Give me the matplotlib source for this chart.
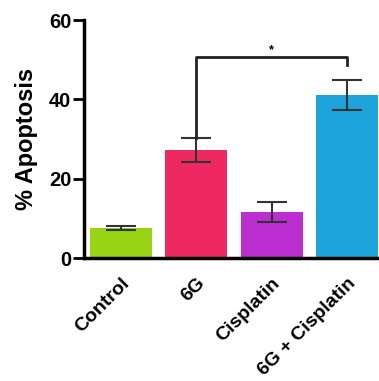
import numpy as np
import matplotlib
matplotlib.use("Agg")
import matplotlib.pyplot as plt

# values
groups = ['Control', '6G', 'Cisplatin', '6G + Cisplatin']
means = [7.5, 27.2, 11.6, 41.0]
errs = [0.5, 3.1, 2.4, 3.8]
colors = ['#99D414', '#EE2860', '#BB2ED0', '#1EA4DA']
yticks = [0, 20, 40, 60]
sig_y = 50.6
sig_pair = (1, 3)

plt.rcParams['font.family'] = ['Liberation Sans', 'DejaVu Sans']
plt.rcParams['font.weight'] = 'bold'

fig = plt.figure(figsize=(3.79, 3.81), dpi=100)
ax = fig.add_axes([0.2216, 0.3228, 0.7784, 0.6247])

x = np.arange(len(groups))
ax.bar(x, means, width=0.82, color=colors, edgecolor='none', zorder=2)
ax.errorbar(x, means, yerr=errs, fmt='none', ecolor='#333333',
            elinewidth=1.5, capsize=10.5, capthick=1.5, zorder=3)

# significance bracket
i, j = sig_pair
ax.plot([i, i, j, j], [means[i] + errs[i], sig_y, sig_y, 48.6],
        color='#222222', lw=2, zorder=4, clip_on=False)
ax.text((i + j) / 2, sig_y + 0.3, '*', ha='center', va='bottom', fontsize=9)

ax.set_xlim(-0.49, 3.42)
ax.set_ylim(0, 60)
ax.set_yticks(yticks)
ax.set_xticks(x)
ax.set_xticklabels(groups, rotation=45, ha='right', rotation_mode='anchor',
                   fontsize=14, fontweight='bold')
ax.tick_params(axis='x', length=0, pad=12)
ax.tick_params(axis='y', length=8, width=2, labelsize=14.5, pad=1)
ax.set_ylabel('% Apoptosis', fontsize=17, fontweight='bold', labelpad=8)

for s in ['top', 'right']:
    ax.spines[s].set_visible(False)
for s in ['left', 'bottom']:
    ax.spines[s].set_linewidth(2.5)

fig.savefig('out.png', dpi=100)
